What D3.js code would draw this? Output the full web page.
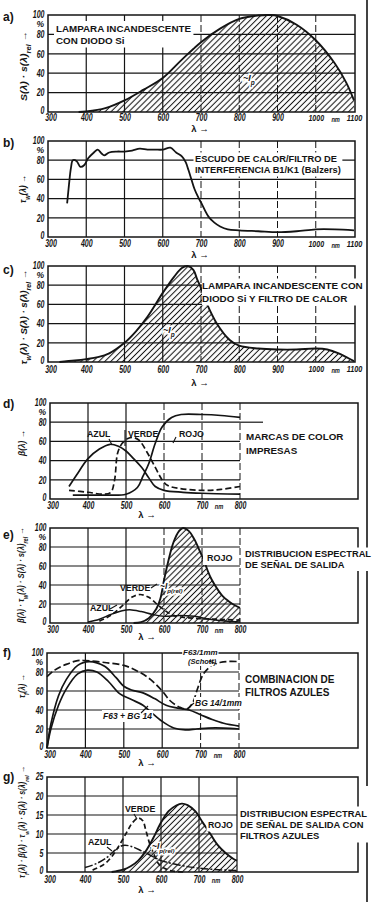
<!DOCTYPE html>
<html>
<head>
<meta charset="utf-8">
<script src="https://cdn.jsdelivr.net/npm/d3@7/dist/d3.min.js"></script>
<style>
html,body{margin:0;padding:0;background:#fff;}
svg{display:block;}
</style>
</head>
<body>
<svg id="chart" width="380" height="902"></svg>
<script>
// ---------------- data ----------------
const wideTicks = [300,400,500,600,700,800,900,1000,1100];
const narrowTicks = [300,400,500,600,700,800];
const pctTicks = [0,20,40,60,80,100];
const gTicks = [0,5,10,15,20,25];

// a) lamp + Si diode
const aWl  = [380,400,450,500,550,600,650,700,750,800,850,880,900,950,1000,1050,1080,1100];
const aVal = [0,0.5,4,12,23,35,54,72,86,96,99.5,100,99,90,74,50,30,12];
// b) heat shield / interference filter
const bWl  = [350,355,360,365,375,385,395,405,420,430,440,447,460,480,500,520,540,560,580,600,620,635,650,660,667,675,683,692,700,710,720,735,750,770,800,850,900,950,1000,1050,1100];
const bVal = [35,55,72,80,79,73,75,82,88,91,87,85,88,89,89,90,92,91,91,91,93,88,84,78,70,60,50,42,36,28,21,15,11,8,7,6,5,6,8,8,7];
// c) lamp + diode + heat filter
const cWl  = [330,370,400,430,460,500,530,560,600,630,650,665,680,690,700,715,740,775,800,850,900,950,1000,1030,1060,1080,1100];
const cVal = [0,1.5,3,5,9,20,32,47,72,89,98,100,96,86,77,61,41,23,17,14,13,13,14,13,9,5,1];
// d) printed colour marks
const dAzulWl   = [350,370,400,430,458,480,500,520,543,560,577,600,650,700,800];
const dAzulVal  = [13,25,42,52,57,55,50,42,32,22,13,9,7,6,5];
const dVerdeWl  = [350,400,440,460,470,478,490,505,520,535,555,577,595,610,640,700,750,800];
const dVerdeVal = [9,7,5,7,20,48,58,63,64,61,49,33,20,14,11,9,10,13];
const dRojoWl   = [360,400,450,500,530,545,560,577,595,620,645,700,750,800];
const dRojoVal  = [4,4,4,5,12,24,37,58,75,85,88,88,87,85];
// e) output signal spectral distribution
const eRojoWl   = [520,540,560,580,590,600,610,625,640,650,665,680,695,705,715,725,740,755,770,785,800];
const eRojoVal  = [0,1,5,15,25,45,63,85,97,100,97,88,75,66,55,46,36,28,23,19,16];
const eVerdeWl  = [430,460,490,515,537,560,590,625,680,740,800];
const eVerdeVal = [2,8,18,27,30,27,17,8,5,4,3];
const eAzulWl   = [400,430,460,490,510,540,570,600,640,680,720,760,800];
const eAzulVal  = [1,4,9,13,14,12,9,7,8,7,4,2,1];
// f) blue filter combination
const fF63Wl   = [300,320,350,380,400,450,500,540,570,600,620,645,665,680,690,706,720,732,750,768,800];
const fF63Val  = [75,82,88,92,92,90,87,80,72,60,50,43,41,48,60,77,84,88,90,91,91];
const fBG14Wl  = [300,310,330,350,380,410,450,480,500,520,550,580,610,640,670,700,730,760,800];
const fBG14Val = [0,25,55,72,87,91,86,74,65,61,58,52,45,42,40,35,30,26,23];
const fProdWl  = [300,310,330,350,380,405,430,460,490,520,550,570,600,630,660,690,720,760,800];
const fProdVal = [0,20,45,62,78,82,80,70,57,51,45,38,28,21,19,20,21,21,20];
// g) output signal with blue filters
const gRojoWl   = [470,500,520,540,560,580,600,620,640,655,670,690,710,730,750,770,790,800];
const gRojoVal  = [0,0.6,1.5,3,5.5,9,13,16,17.5,18,17.6,16,13,10,7,5,3.5,3];
const gVerdeWl  = [420,450,470,490,510,525,540,552,560,570,580,595,620,660];
const gVerdeVal = [0.5,2,4,7,10.5,13,14.2,13.5,11,7.5,5,2,0.5,0];
const gAzulWl   = [400,430,460,480,500,520,550,580,600,650,700,750,800];
const gAzulVal  = [1.2,2.2,4,5.8,7,6.8,5.5,4,3,1.8,1,0.6,0.4];

// ---------------- drawing ----------------
const svg = d3.select("#chart");
const INK = "#141414";
const NUM_FONT = "'Liberation Sans',Arial,sans-serif";
const TXT_FONT = "'Liberation Sans',Arial,sans-serif";
const CHAR_W = 3.9;
const NUM_SIZE = 10;

svg.append("rect").attr("width",380).attr("height",902).attr("fill","#fff");
const defs = svg.append("defs");
defs.append("pattern").attr("id","hatch").attr("patternUnits","userSpaceOnUse")
  .attr("width",4.2).attr("height",4.2).attr("patternTransform","rotate(45)")
  .append("line").attr("x1",2.1).attr("x2",2.1).attr("y1",0).attr("y2",4.2)
  .attr("stroke",INK).attr("stroke-width",1.05);

// page column rule
[[0,786],[828,902]].forEach(([a,b]) => svg.append("line")
  .attr("x1",367).attr("x2",367).attr("y1",a).attr("y2",b)
  .attr("stroke",INK).attr("stroke-width",1.6));

function zip(w,v){ return w.map((d,i)=>[d,v[i]]); }
function narrow(sel, cw){
  sel.attr("textLength", function(){ return this.textContent.length*(cw||CHAR_W); })
     .attr("lengthAdjust","spacingAndGlyphs");
}

function panel(o){
  const g = svg.append("g");
  const x = d3.scaleLinear().domain([300, o.xTicks[o.xTicks.length-1]]).range([o.x0,o.x1]);
  const y = d3.scaleLinear().domain([0, o.yTicks[o.yTicks.length-1]]).range([o.yBot,o.yTop]);
  const gridRight = o.gridRight != null ? o.gridRight : o.frameRight;
  const isDash = d => o.dashFrom != null && d >= o.dashFrom;
  g.append("g").selectAll("line").data(o.yTicks.slice(1,-1)).join("line")
    .attr("x1",o.x0).attr("x2",gridRight).attr("y1",d=>y(d)).attr("y2",d=>y(d))
    .attr("stroke",INK).attr("stroke-width",1.2);
  const vt = o.xTicks.slice(1).filter(d => x(d) < o.frameRight - 3);
  g.append("g").selectAll("line").data(vt).join("line")
    .attr("x1",d=>x(d)).attr("x2",d=>x(d)).attr("y1",o.yTop).attr("y2",o.yBot)
    .attr("stroke",INK).attr("stroke-width",d=>isDash(d)?1:1.2)
    .attr("stroke-dasharray",d=>isDash(d)?"7,3":null);
  g.append("rect").attr("x",o.x0).attr("y",o.yTop)
    .attr("width",o.frameRight-o.x0).attr("height",o.yBot-o.yTop)
    .attr("fill","none").attr("stroke",INK).attr("stroke-width",1.5);

  const ya = g.append("g").attr("transform",`translate(${o.x0},0)`)
    .call(d3.axisLeft(y).tickValues(o.yTicks).tickSize(0).tickPadding(3.5));
  ya.select(".domain").remove();
  ya.attr("font-family",NUM_FONT).attr("font-size",NUM_SIZE).attr("font-style","italic").attr("font-weight","bold");
  ya.selectAll("text").attr("fill",INK).call(narrow);
  ya.selectAll(".tick").filter(d=>d===0).select("text").attr("dy","0.1em");
  ya.selectAll(".tick").filter(d=>d===o.yTicks[o.yTicks.length-1]).select("text").attr("dy","0.25em");
  if (o.pct) g.append("text").attr("x",o.x0-4).attr("y",o.yTop+11.5).attr("text-anchor","end")
    .attr("font-family",NUM_FONT).attr("font-size",8.5).attr("font-style","italic").attr("font-weight","bold")
    .attr("fill",INK).text("%");

  const xa = g.append("g").attr("transform",`translate(0,${o.yBot})`)
    .call(d3.axisBottom(x).tickValues(o.xTicks).tickSize(0).tickPadding(o.xPad).tickFormat(d3.format("d")));
  xa.select(".domain").remove();
  xa.attr("font-family",NUM_FONT).attr("font-size",NUM_SIZE).attr("font-style","italic").attr("font-weight","bold");
  xa.selectAll("text").attr("fill",INK).call(narrow);
  xa.selectAll(".tick").filter(d=>d>=1000).select("text").attr("font-size",9.5);
  xa.selectAll(".tick").filter(d=>d===300).select("text").attr("x",2.5);
  g.append("text").attr("x",x(o.nmAt)).attr("y",o.yBot+o.xPad+7.5).attr("text-anchor","middle")
    .attr("font-family",NUM_FONT).attr("font-size",8).attr("font-style","italic").attr("font-weight","bold")
    .attr("fill",INK).attr("textLength",8.5).attr("lengthAdjust","spacingAndGlyphs").text("nm");
  g.append("text").attr("x",o.lamX).attr("y",o.lamY).attr("text-anchor","middle")
    .attr("font-family",TXT_FONT).attr("font-size",9.5).attr("font-weight","bold").attr("fill",INK).text("λ →");
  g.append("text").attr("x",3).attr("y",o.letterY)
    .attr("font-family",TXT_FONT).attr("font-size",12).attr("font-weight","bold").attr("fill",INK).text(o.letter);

  const t = g.append("text").attr("transform",`translate(${o.tx},${o.tcy}) rotate(-90)`)
    .attr("text-anchor","middle").attr("font-family",TXT_FONT).attr("font-size",o.tsize)
    .attr("font-style","italic").attr("font-weight","bold").attr("fill",INK)
    .attr("textLength",o.tlen).attr("lengthAdjust","spacingAndGlyphs");
  o.title.forEach(p => {
    const s = t.append("tspan").text(typeof p === "string" ? p : p.sub);
    if (typeof p !== "string") s.attr("baseline-shift","sub").attr("font-size",o.tsize*0.72);
  });
  return {g,x,y};
}

function curve(P, wl, val, opt={}){
  const data = zip(wl,val);
  const cv = d3.curveCatmullRom.alpha(0.5);
  if (opt.hatch){
    P.g.append("path").datum(data)
      .attr("d", d3.area().x(d=>P.x(d[0])).y0(P.y(0)).y1(d=>P.y(d[1])).curve(cv))
      .attr("fill","url(#hatch)");
  }
  P.g.append("path").datum(data)
    .attr("d", d3.line().x(d=>P.x(d[0])).y(d=>P.y(d[1])).curve(cv))
    .attr("fill","none").attr("stroke",INK).attr("stroke-width",opt.w||1.7)
    .attr("stroke-linejoin","round").attr("stroke-dasharray",opt.dash||null);
}

function boxText(g, x, y, lines, size, lh, opt={}){
  const t = g.append("text").attr("font-family",TXT_FONT).attr("font-size",size)
    .attr("font-weight","bold").attr("fill",INK)
    .attr("font-style",opt.italic?"italic":null);
  lines.forEach((l,i)=> t.append("tspan").attr("x",x).attr("y",y+i*lh).text(l));
  if (opt.box !== false){
    const bb = t.node().getBBox();
    const p = opt.pad != null ? opt.pad : 1.5;
    const pl = opt.padL != null ? opt.padL : p;
    g.insert("rect", () => t.node()).attr("x",bb.x-pl).attr("y",bb.y-p)
      .attr("width",bb.width+pl+p).attr("height",bb.height+2*p).attr("fill","#fff");
  }
  return t;
}
function halo(g, x, y, parts, size){
  const t = g.append("text").attr("x",x).attr("y",y).attr("font-family",TXT_FONT)
    .attr("font-size",size).attr("font-style","italic").attr("font-weight","bold").attr("fill",INK)
    .attr("stroke","#fff").attr("stroke-width",3).attr("paint-order","stroke");
  parts.forEach(p => {
    const s = t.append("tspan").text(typeof p === "string" ? p : p.sub);
    if (typeof p !== "string") s.attr("baseline-shift","sub").attr("font-size",size*0.72);
  });
}
function leader(g, x1,y1,x2,y2){
  g.append("line").attr("x1",x1).attr("y1",y1).attr("x2",x2).attr("y2",y2)
    .attr("stroke",INK).attr("stroke-width",1.1);
}

// ----- a -----
const A = panel({letter:"a)",letterY:21,xTicks:wideTicks,yTicks:pctTicks,x0:48,x1:354,frameRight:355,
  yTop:15,yBot:112,dashFrom:700,pct:true,xPad:2.3,nmAt:1052,lamX:200,lamY:132,
  tx:27,tcy:66,tlen:70,tsize:9,title:["S(λ) · s(λ)",{sub:"rel"}," →"]});
curve(A, aWl, aVal, {hatch:true, w:1.9});
boxText(A.g, 56, 32, ["LAMPARA INCANDESCENTE","CON DIODO Si"], 9.8, 11.5, {pad:2});
halo(A.g, 243, 81, ["~I",{sub:"p"}], 9);

// ----- b -----
const B = panel({letter:"b)",letterY:147,xTicks:wideTicks,yTicks:pctTicks,x0:48,x1:354,frameRight:355,
  yTop:141,yBot:237,dashFrom:700,pct:true,xPad:3,nmAt:1052,lamX:200,lamY:258,
  tx:26,tcy:189,tlen:28,tsize:9,title:["τ",{sub:"w"},"(λ) →"]});
curve(B, bWl, bVal, {w:1.8});
boxText(B.g, 195, 162, ["ESCUDO DE CALOR/FILTRO DE","INTERFERENCIA B1/K1 (Balzers)"], 9.3, 11, {pad:1.5});

// ----- c -----
const C = panel({letter:"c)",letterY:274,xTicks:wideTicks,yTicks:pctTicks,x0:48,x1:354,frameRight:355,
  yTop:266,yBot:362,dashFrom:700,pct:true,xPad:3.5,nmAt:1052,lamX:200,lamY:386,
  tx:27,tcy:317,tlen:95,tsize:9,title:["τ",{sub:"w"},"(λ) · S(λ) · s(λ)",{sub:"rel"}," →"]});
curve(C, cWl, cVal, {hatch:true, w:1.9});
boxText(C.g, 202, 289, ["LAMPARA INCANDESCENTE CON","DIODO Si Y FILTRO DE CALOR"], 9.9, 13, {pad:1.5, padL:0});
halo(C.g, 163, 333, ["~I",{sub:"p"}], 9);

// ----- d -----
const D = panel({letter:"d)",letterY:408,xTicks:narrowTicks,yTicks:pctTicks,x0:50,x1:240,frameRight:358,gridRight:240,
  yTop:403,yBot:499,dashFrom:600,pct:true,xPad:2.5,nmAt:745,lamX:147,lamY:518,
  tx:25,tcy:443,tlen:26,tsize:9,title:["β(λ) →"]});
D.g.append("line").attr("x1",D.x(800)).attr("x2",263).attr("y1",D.y(80)).attr("y2",D.y(80))
  .attr("stroke",INK).attr("stroke-width",1.2);
curve(D, dAzulWl, dAzulVal);
curve(D, dVerdeWl, dVerdeVal, {dash:"6,3"});
curve(D, dRojoWl, dRojoVal);
boxText(D.g, 87, 437, ["AZUL"], 8.8, 10, {box:false});
boxText(D.g, 128, 437, ["VERDE"], 8.8, 10, {box:false});
boxText(D.g, 179, 437, ["ROJO"], 8.8, 10, {box:false});
leader(D.g, 109,439, 112,445);
leader(D.g, 125,430, 125,446);
leader(D.g, 176,437, 173,443);
boxText(D.g, 246, 440, ["MARCAS DE COLOR","IMPRESAS"], 9.8, 14, {box:false});

// ----- e -----
const E = panel({letter:"e)",letterY:539,xTicks:narrowTicks,yTicks:pctTicks,x0:50,x1:240,frameRight:358,gridRight:240,
  yTop:528,yBot:623,dashFrom:600,pct:true,xPad:2.5,nmAt:745,lamX:147,lamY:640,
  tx:24,tcy:575,tlen:96,tsize:9,title:["β(λ) · τ",{sub:"w"},"(λ) · S(λ) · s(λ)",{sub:"rel"}," →"]});
curve(E, eRojoWl, eRojoVal, {hatch:true, w:1.9});
curve(E, eVerdeWl, eVerdeVal, {dash:"5,3"});
curve(E, eAzulWl, eAzulVal, {w:1.5});
E.g.append("rect").attr("x",E.x(700)+1).attr("y",551).attr("width",E.x(800)-E.x(700)-2).attr("height",14).attr("fill","#fff");
boxText(E.g, 207, 561, ["ROJO"], 9, 10, {box:false});
boxText(E.g, 120, 591, ["VERDE"], 8.8, 10, {box:false});
leader(E.g, 151,588, 157,584);
boxText(E.g, 90, 611, ["AZUL"], 8.8, 10, {box:false});
leader(E.g, 110,609, 117,605);
halo(E.g, 160, 589, ["~I",{sub:"p(rel)"}], 8.5);
boxText(E.g, 245, 557, ["DISTRIBUCION ESPECTRAL","DE SEÑAL DE SALIDA"], 9.3, 10.5, {pad:1.5});

// ----- f -----
const F = panel({letter:"f)",letterY:657,xTicks:narrowTicks,yTicks:pctTicks,x0:47,x1:239,frameRight:358,gridRight:239,
  yTop:653,yBot:748,dashFrom:700,pct:true,xPad:2.5,nmAt:745,lamX:147,lamY:766,
  tx:25,tcy:686,tlen:24,tsize:9,title:["τ",{sub:"f"},"(λ) →"]});
curve(F, fF63Wl, fF63Val, {dash:"7,3"});
curve(F, fBG14Wl, fBG14Val);
curve(F, fProdWl, fProdVal);
boxText(F.g, 183, 654.5, ["F63/1mm"], 8, 10, {italic:true, pad:0.8});
boxText(F.g, 188, 663.5, ["(Schott)"], 7.5, 10, {italic:true, pad:0.5});
leader(F.g, 209,661, 217,664);
boxText(F.g, 195, 706, ["BG 14/1mm"], 8.5, 10, {italic:true, pad:1});
leader(F.g, 194,703, 187,709);
boxText(F.g, 103, 719, ["F63 + BG 14"], 8.5, 10, {italic:true, pad:1});
leader(F.g, 141,713, 148,706);
boxText(F.g, 245, 683, ["COMBINACION DE","FILTROS AZULES"], 10, 12.5, {box:false});

// ----- g -----
const G = panel({letter:"g)",letterY:781,xTicks:narrowTicks,yTicks:gTicks,x0:47,x1:237,frameRight:358,gridRight:237,
  yTop:777,yBot:872,dashFrom:null,pct:false,xPad:3.5,nmAt:745,lamX:147,lamY:893,
  tx:25,tcy:822,tlen:112,tsize:8.5,title:["τ",{sub:"f"},"(λ) · β(λ) · τ",{sub:"w"},"(λ) · S(λ) · s(λ)",{sub:"rel"}," →"]});
curve(G, gRojoWl, gRojoVal, {hatch:true, w:1.9});
curve(G, gVerdeWl, gVerdeVal, {dash:"5,3"});
curve(G, gAzulWl, gAzulVal, {dash:"8,2,2,2", w:1.5});
boxText(G.g, 125, 812, ["VERDE"], 8.8, 10, {box:false});
leader(G.g, 134,814, 137,819);
boxText(G.g, 88, 845, ["AZUL"], 8.8, 10, {box:false});
leader(G.g, 107,847, 112,851);
boxText(G.g, 208, 828, ["ROJO"], 8.8, 10, {pad:1.5});
halo(G.g, 152, 849, ["~I",{sub:"p(rel)"}], 8.5);
boxText(G.g, 240, 817, ["DISTRIBUCION ESPECTRAL","DE SEÑAL DE SALIDA CON","FILTROS AZULES"], 9.4, 11, {pad:1.5});
</script>
</body>
</html>
